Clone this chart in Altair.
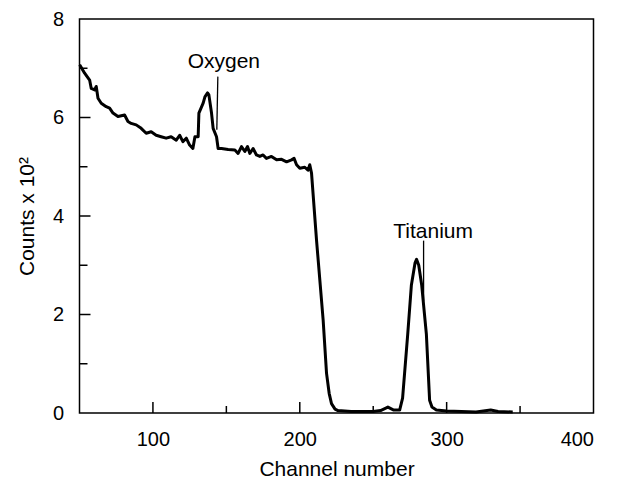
import altair as alt
import pandas as pd

channel = [50.1, 53.5, 56.9, 58.0, 60.3, 61.4, 62.6, 64.8, 68.2, 70.5, 72.8, 76.2, 80.7, 83.0,
           85.2, 88.6, 92.0, 95.4, 98.8, 102.2, 105.6, 109.0, 112.4, 115.9, 118.2, 120.4, 122.7,
           125.0, 127.2, 128.6, 130.8, 131.3, 134.2, 135.4, 137.2, 138.1, 139.9, 141.0, 143.3,
           144.4, 146.7, 151.2, 155.8, 158.0, 160.3, 162.6, 164.4, 166.0, 168.2, 170.5, 172.8,
           175.0, 177.3, 180.7, 184.2, 187.6, 191.0, 194.4, 196.1, 197.8, 200.0, 203.4, 205.6,
           206.8, 208.0, 211.4, 215.9, 218.2, 220.0, 221.6, 224.0, 226.0, 235.0, 250.0, 255.0,
           260.0, 264.0, 268.0, 270.0, 273.5, 276.0, 278.5, 279.5, 281.0, 283.0, 286.2, 288.4,
           290.0, 293.0, 300.0, 320.0, 330.0, 335.0, 345.0]
counts = [7.07, 6.90, 6.76, 6.59, 6.56, 6.63, 6.39, 6.29, 6.22, 6.19, 6.09, 6.02, 6.05, 5.92,
          5.88, 5.85, 5.78, 5.68, 5.71, 5.64, 5.61, 5.58, 5.61, 5.54, 5.64, 5.51, 5.58,
          5.44, 5.37, 5.61, 5.61, 6.09, 6.29, 6.42, 6.50, 6.46, 6.09, 5.78, 5.61,
          5.37, 5.37, 5.35, 5.34, 5.27, 5.41, 5.31, 5.41, 5.27, 5.37, 5.24, 5.21,
          5.24, 5.17, 5.21, 5.14, 5.15, 5.10, 5.14, 5.17, 5.04, 4.97, 4.99, 4.93,
          5.04, 4.87, 3.51, 1.89, 0.81, 0.40, 0.19, 0.08, 0.05, 0.03, 0.03, 0.05,
          0.12, 0.06, 0.06, 0.30, 1.60, 2.60, 3.05, 3.12, 3.00, 2.60, 1.60, 0.26,
          0.12, 0.06, 0.04, 0.02, 0.06, 0.03, 0.02]

x_major_ticks = [100, 200, 300]
x_minor_ticks = [150, 250, 350]
y_major_ticks = [2, 4, 6]
y_minor_ticks = [1, 3, 5, 7]
x_labels = [100, 200, 300, 400]
y_labels = [0, 2, 4, 6, 8]

ann_text = ["Oxygen", "Titanium"]
ann_x = [148.3, 290.8]
ann_y = [7.0, 3.55]
ptr_x = [143.5, 284.3]
ptr_x2 = [144.2, 284.3]
ptr_y = [5.75, 2.27]
ptr_y2 = [6.83, 3.5]

W, H = 514, 394
FONT = "Liberation Sans"

df = pd.DataFrame({"channel": channel, "counts": counts})
ann = pd.DataFrame({"t": ann_text, "x": ann_x, "y": ann_y})
ptr = pd.DataFrame({"x": ptr_x, "x2": ptr_x2, "y": ptr_y, "y2": ptr_y2})

xscale = alt.Scale(domain=[50, 400], nice=False, zero=False)
yscale = alt.Scale(domain=[0, 8], nice=False)
xaxis = alt.Axis(values=x_labels, ticks=False, domain=False, grid=False,
                 labelFontSize=20, labelPadding=16, labelFont=FONT,
                 title="Channel number", titleFontSize=21, titleFont=FONT,
                 titleFontWeight="normal", titlePadding=9, labelColor="black",
                 titleColor="black")
yaxis = alt.Axis(values=y_labels, ticks=False, domain=False, grid=False,
                 labelFontSize=20, labelPadding=16, labelFont=FONT,
                 title="Counts x 10²", titleFontSize=21, titleFont=FONT,
                 titleFontWeight="normal", titlePadding=15, labelColor="black",
                 titleColor="black")

def X(f):
    return alt.X(f, type="quantitative", scale=xscale, axis=xaxis)

def Y(f):
    return alt.Y(f, type="quantitative", scale=yscale, axis=yaxis)

line = alt.Chart(df).mark_line(color="black", strokeWidth=3, strokeJoin="round").encode(
    x=X("channel"), y=Y("counts"))

def xt(vals, length):
    return alt.Chart(pd.DataFrame({"v": vals})).mark_rule(color="black", strokeWidth=1.5).encode(
        x=X("v"), y=alt.value(H), y2=alt.value(H - length))

def yt(vals, length):
    return alt.Chart(pd.DataFrame({"v": vals})).mark_rule(color="black", strokeWidth=1.5).encode(
        y=Y("v"), x=alt.value(0), x2=alt.value(length))

text = alt.Chart(ann).mark_text(font=FONT, fontSize=21, align="center",
                                baseline="alphabetic", color="black").encode(
    x=X("x"), y=Y("y"), text="t")

ptrs = alt.Chart(ptr).mark_rule(color="black", strokeWidth=1.3).encode(
    x=X("x"), x2="x2", y=Y("y"), y2="y2")

chart = alt.layer(
    line, xt(x_major_ticks, 11), xt(x_minor_ticks, 7), yt(y_major_ticks, 11),
    yt(y_minor_ticks, 8), text, ptrs
).properties(
    width=W, height=H,
    autosize=alt.AutoSizeParams(type="none"),
    padding={"left": 79.5, "top": 19, "right": 31, "bottom": 67},
    background="white",
).configure_view(stroke="black", strokeWidth=1.5)

chart.save("out.html", embed_options={"renderer": "svg", "actions": False})
